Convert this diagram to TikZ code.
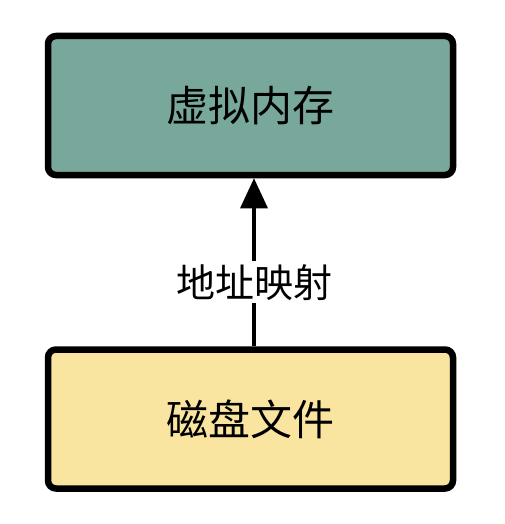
\documentclass[tikz,border=0pt]{standalone}
\usepackage{fontspec}
\newfontfamily\cjk{Noto Sans CJK SC}
\usetikzlibrary{arrows.meta}
\definecolor{memgreen}{RGB}{119,168,155}
\definecolor{fileyellow}{RGB}{249,228,160}

\begin{document}
\begin{tikzpicture}[x=1pt, y=-1pt,
      box/.style={draw=black, line width=6.5pt, rounded corners=8pt,
        minimum width=405pt, minimum height=139pt, inner sep=0pt,
        font=\cjk\fontsize{42}{50}\selectfont},
      map/.style={-{Triangle[length=30pt, width=27pt]}, line width=3.3pt, draw=black},
      etq/.style={font=\cjk\fontsize{39}{47}\selectfont, fill=white, inner sep=3pt}
    ]
    \useasboundingbox (0,0) rectangle (504,524);
    \node[box, fill=memgreen]   (vm)   at (250.5,105.5) {虚拟内存};
    \node[box, fill=fileyellow] (disk) at (250.5,419)   {磁盘文件};
    \draw[map] ([xshift=3.5pt]disk.north) -- node[etq, pos=0.38]{地址映射} ([xshift=3.5pt]vm.south);
  \end{tikzpicture}
\end{document}
